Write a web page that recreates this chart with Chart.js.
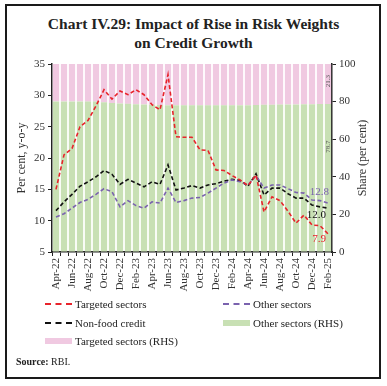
<!DOCTYPE html>
<html>
<head>
<meta charset="utf-8">
<script src="https://cdn.jsdelivr.net/npm/chart.js@4"></script>
<style>
  body { margin: 0; background: #fff; }
  #wrap { position: relative; width: 387px; height: 386px; font-family: "Liberation Serif", serif; color: #222; }
  #frame { position: absolute; left: 5px; top: 4px; width: 372px; height: 371px; border: 2px solid #1a1a1a; }
  #title { position: absolute; left: 0; top: 14px; width: 387px; text-align: center; font-size: 15.5px; font-weight: bold; line-height: 19px; color: #222; }
  canvas { position: absolute; left: 0; top: 0; }
  #legend { position: absolute; left: 45px; top: 297px; width: 330px; font-size: 11px; }
  .item { position: absolute; white-space: nowrap; display: flex; align-items: center; height: 14px; }
  .mark { width: 27px; margin-right: 3px; }
  #source { position: absolute; left: 16px; top: 356px; font-size: 10px; }
</style>
</head>
<body>
<div id="wrap">
  <div id="frame"></div>
  <div id="title">Chart IV.29: Impact of Rise in Risk Weights<br>on Credit Growth</div>
  <canvas id="chart" width="387" height="386"></canvas>
  <div id="legend"></div>
  <div id="source"><b>Source:</b> RBI.</div>
</div>
<script>
const months = ['Apr-22','May-22','Jun-22','Jul-22','Aug-22','Sep-22','Oct-22','Nov-22','Dec-22',
  'Jan-23','Feb-23','Mar-23','Apr-23','May-23','Jun-23','Jul-23','Aug-23','Sep-23','Oct-23','Nov-23','Dec-23',
  'Jan-24','Feb-24','Mar-24','Apr-24','May-24','Jun-24','Jul-24','Aug-24','Sep-24','Oct-24','Nov-24','Dec-24',
  'Jan-25','Feb-25'];

// growth, per cent y-o-y (LHS)
const targeted = [15.0, 20.5, 21.5, 25.0, 26.0, 28.3, 30.9, 29.4, 30.7, 30.1, 30.9, 30.1, 28.5, 27.7, 33.3,
  23.4, 23.3, 23.3, 21.3, 21.2, 18.1, 18.0, 17.2, 16.5, 15.6, 17.3, 11.4, 13.8, 13.2, 11.5, 9.6, 10.9, 9.3, 9.2, 7.9];
const otherSectors = [10.6, 11.1, 12.0, 12.9, 13.4, 14.2, 15.1, 14.6, 12.2, 13.2, 12.4, 12.0, 13.0, 12.8, 15.2,
  12.9, 13.2, 13.6, 13.7, 14.4, 15.2, 16.0, 16.5, 16.2, 15.7, 17.2, 15.2, 15.7, 15.7, 15.1, 14.5, 14.4, 13.3, 13.2, 12.8];
const nonFood = [11.6, 13.0, 14.2, 15.5, 16.2, 17.0, 18.0, 17.4, 15.8, 16.6, 16.0, 15.4, 16.2, 15.8, 18.9,
  14.9, 15.2, 15.6, 15.2, 15.7, 15.9, 16.3, 16.6, 16.4, 15.5, 17.5, 14.1, 15.2, 15.2, 14.3, 13.6, 13.6, 12.5, 12.2, 12.0];

// share in credit, per cent (RHS)
const otherShare = [80.1, 80.1, 80.1, 80.1, 80.0, 80.0, 79.6, 79.2, 79.0, 78.8, 78.6, 78.5, 78.3, 78.2, 78.1,
  78.1, 78.0, 78.0, 78.0, 78.0, 78.0, 78.0, 78.0, 78.1, 78.1, 78.2, 78.3, 78.3, 78.4, 78.5, 78.5, 78.6, 78.6, 78.7, 78.7];
const targetedShare = [19.9, 19.9, 19.9, 19.9, 20.0, 20.0, 20.4, 20.8, 21.0, 21.2, 21.4, 21.5, 21.7, 21.8, 21.9,
  21.9, 22.0, 22.0, 22.0, 22.0, 22.0, 22.0, 22.0, 21.9, 21.9, 21.8, 21.7, 21.7, 21.6, 21.5, 21.5, 21.4, 21.4, 21.3, 21.3];

const RED = '#e8232b', BLACK = '#111', PURPLE = '#7a62ae', GREEN = '#c8e0b4', PINK = '#f0c9e1';
const FONT = '"Liberation Serif", serif';
const TXT = '#333';

const endLabels = {
  id: 'endLabels',
  afterDatasetsDraw(chart) {
    const { ctx, scales } = chart;
    const last = months.length - 1;
    const x = scales.x.getPixelForValue(last);
    ctx.save();
    ctx.font = '11px ' + FONT;
    ctx.textAlign = 'right';
    ctx.textBaseline = 'middle';
    ctx.fillStyle = PURPLE;
    ctx.fillText(otherSectors[last].toFixed(1), x + 1, scales.y.getPixelForValue(otherSectors[last]) - 11);
    ctx.fillStyle = BLACK;
    ctx.fillText(nonFood[last].toFixed(1), x - 2, scales.y.getPixelForValue(nonFood[last]) + 7);
    ctx.fillStyle = RED;
    ctx.fillText(targeted[last].toFixed(1), x - 2, scales.y.getPixelForValue(targeted[last]) + 5);

    // share labels on last bar, rotated
    ctx.font = '7px ' + FONT;
    ctx.fillStyle = '#555';
    ctx.textAlign = 'center';
    const drawRot = (txt, px, py) => {
      ctx.save();
      ctx.translate(px, py);
      ctx.rotate(-Math.PI / 2);
      ctx.fillText(txt, 0, 0);
      ctx.restore();
    };
    drawRot(targetedShare[last].toFixed(1), x, scales.y1.getPixelForValue(100 - targetedShare[last] / 2 + 1.5));
    drawRot(otherShare[last].toFixed(1), x, scales.y1.getPixelForValue(56));

    // right axis title, reading upwards
    const a = chart.chartArea;
    ctx.font = '12px ' + FONT;
    ctx.fillStyle = TXT;
    drawRot('Share (per cent)', 363, (a.top + a.bottom) / 2);
    ctx.restore();
  }
};

const tickFont = { family: FONT, size: 11 };

const chart = new Chart(document.getElementById('chart'), {
  data: {
    labels: months,
    datasets: [
      { type: 'line', label: 'Targeted sectors', data: targeted, yAxisID: 'y', borderColor: RED, order: 0 },
      { type: 'line', label: 'Other sectors', data: otherSectors, yAxisID: 'y', borderColor: PURPLE, order: 0 },
      { type: 'line', label: 'Non-food credit', data: nonFood, yAxisID: 'y', borderColor: BLACK, order: 0 },
      { type: 'bar', label: 'Other sectors (RHS)', data: otherShare, yAxisID: 'y1', backgroundColor: GREEN, order: 1 },
      { type: 'bar', label: 'Targeted sectors (RHS)', data: targetedShare, yAxisID: 'y1', backgroundColor: PINK, order: 1 }
    ]
  },
  options: {
    responsive: false,
    animation: false,
    devicePixelRatio: 1,
    layout: { padding: { top: 64, left: 15, right: 15, bottom: 92 } },
    datasets: {
      line: { borderWidth: 1.6, borderDash: [4, 2.5], pointRadius: 0, tension: 0, fill: false },
      bar: { barPercentage: 0.78, categoryPercentage: 1, borderWidth: 0 }
    },
    plugins: { legend: { display: false }, tooltip: { enabled: false } },
    scales: {
      x: {
        stacked: true,
        offset: true,
        grid: { offset: true, drawOnChartArea: false, tickLength: 4, color: '#222' },
        border: { color: '#222', width: 1.5 },
        ticks: {
          autoSkip: false, minRotation: 90, maxRotation: 90, padding: 2,
          font: tickFont, color: TXT,
          callback: (v, i) => (i % 2 === 0 ? months[i] : '')
        },
        afterFit: s => { s.height = 42; }
      },
      y: {
        position: 'left',
        min: 5, max: 35,
        grid: { drawOnChartArea: false, tickLength: 4, color: '#222' },
        border: { color: '#222', width: 1.5 },
        ticks: { stepSize: 5, font: tickFont, color: TXT, padding: 3 },
        title: { display: true, text: 'Per cent, y-o-y', font: { family: FONT, size: 12 }, color: TXT, padding: 0 },
        afterFit: s => { s.width = 37; }
      },
      y1: {
        position: 'right',
        min: 0, max: 100,
        stacked: true,
        grid: { drawOnChartArea: false, tickLength: 4, color: '#222' },
        border: { color: '#222', width: 1.5 },
        ticks: { stepSize: 20, font: tickFont, color: TXT, padding: 3 },
        afterFit: s => { s.width = 40; }
      }
    }
  },
  plugins: [endLabels]
});

// legend built from the datasets, two columns
const legend = document.getElementById('legend');
const slots = [[0, 0], [1, 0], [0, 1], [1, 1], [0, 2]];
chart.data.datasets.forEach((ds, k) => {
  const [col, row] = slots[k];
  const item = document.createElement('div');
  item.className = 'item';
  item.style.left = (col * 178) + 'px';
  item.style.top = (row * 18.5) + 'px';
  const mark = document.createElement('span');
  mark.className = 'mark';
  if (ds.type === 'line') {
    mark.style.borderTop = '2px dashed ' + ds.borderColor;
    mark.style.height = '0';
  } else {
    mark.style.height = '6px';
    mark.style.background = ds.backgroundColor;
  }
  item.appendChild(mark);
  item.appendChild(document.createTextNode(ds.label));
  legend.appendChild(item);
});
</script>
</body>
</html>
